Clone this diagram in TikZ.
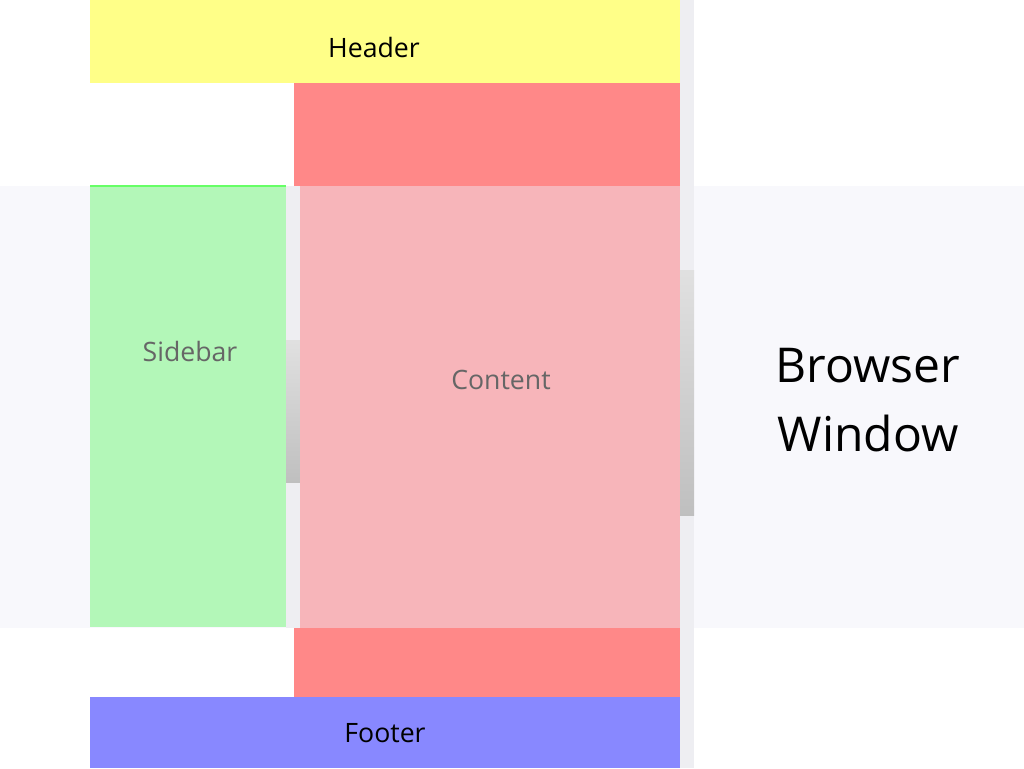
\documentclass[tikz,border=0pt]{standalone}
\usepackage{fontspec}
\setmainfont{Open Sans}
\begin{document}
\begin{tikzpicture}[x=0.75pt,y=-0.75pt,
  lbl/.style={font=\fontsize{20}{24}\selectfont},
  glbl/.style={font=\fontsize{20}{24}\selectfont,text=black!60}]
\definecolor{band}{HTML}{F8F8FC}
\definecolor{hdr}{HTML}{FFFF88}
\definecolor{redc}{HTML}{FF8888}
\definecolor{side}{HTML}{B3F7B8}
\definecolor{cont}{HTML}{F7B5BA}
\definecolor{foot}{HTML}{8888FF}
\definecolor{strip}{HTML}{EEEEF2}
\useasboundingbox (0,0) rectangle (1024,768);
\fill[white] (0,0) rectangle (1024,768);
\fill[band] (0,186) rectangle (1024,628);
\fill[hdr] (90,0) rectangle (680,83);
\fill[redc] (294,83) rectangle (680,186);
\fill[redc] (294,628) rectangle (680,697);
\fill[side] (90,186) rectangle (286,627);
\draw[green!60!white,line width=1.5] (90,186) -- (286,186);
\fill[strip] (286,186) rectangle (300,628);
\shade[top color=black!12,bottom color=black!25] (286,340) rectangle (300,482);
\fill[cont] (300,186) rectangle (680,628);
\fill[foot] (90,697) rectangle (680,768);
\fill[strip] (680,0) rectangle (694,768);
\shade[top color=black!12,bottom color=black!25] (680,270) rectangle (694,515);
\node[lbl] (h) at (374,47) {Header};
\node[glbl] (s) at (190,351) {Sidebar};
\node[glbl] (c) at (501,380) {Content};
\node[lbl] (f) at (385,733) {Footer};
\node[font=\fontsize{36}{52}\selectfont,align=center] (b) at (868,400) {Browser\\Window};
\end{tikzpicture}
\end{document}
